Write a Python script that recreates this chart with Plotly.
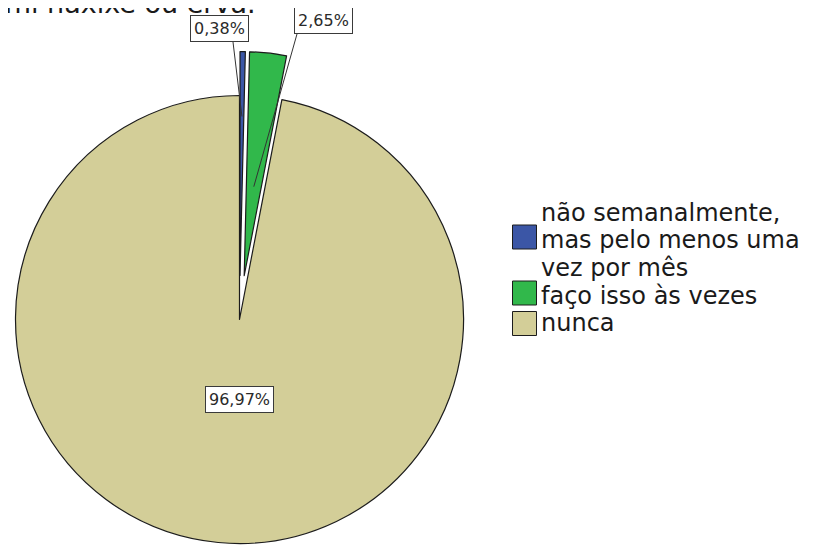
import math
import plotly.graph_objects as go

# ---------------- data ----------------
categories = ["não semanalmente, mas pelo menos uma vez por mês",
              "faço isso às vezes",
              "nunca"]
legend_lines = [["não semanalmente,", "mas pelo menos uma", "vez por mês"],
                ["faço isso às vezes"],
                ["nunca"]]
values = [0.38, 2.65, 96.97]
colors = ["#3B56A6", "#31B84B", "#D3CE98"]
exploded = [True, True, False]
title_text = "Consumi haxixe ou erva."

# ---------------- layout constants ----------------
W, H = 820, 545
OFF = 8  # page body margin of the browser
CX, CY, R = 239.5, 319.5, 224.0
PULL_PX = 44.0
EDGE = "#1c1c1c"
TXT = "#2a2a2a"
FONT = "DejaVu Sans"


def px_x(x):
    return (x - OFF) / W


def px_y(y):
    return 1 - (y - OFF) / H


def clamp(v):
    return max(0.0, min(1.0, v))


def domain_for(dx, dy):
    return dict(x=[clamp(px_x(CX + dx - R)), clamp(px_x(CX + dx + R))],
                y=[clamp(px_y(CY + dy + R)), clamp(px_y(CY + dy - R))])


total = sum(values)
mids = []
acc = 0.0
for v in values:
    mids.append((acc + v / 2) / total * 360)
    acc += v

TRANSP = "rgba(0,0,0,0)"


def pie_trace(visible_idx, dx, dy):
    vis = [i in visible_idx for i in range(len(values))]
    return go.Pie(
        values=values,
        labels=categories,
        sort=False,
        direction="clockwise",
        rotation=0,
        marker=dict(colors=[c if s else TRANSP for c, s in zip(colors, vis)],
                    line=dict(color=[EDGE if s else TRANSP for s in vis],
                              width=[1.2 if s else 0 for s in vis])),
        textinfo="none",
        hoverinfo="label+percent",
        showlegend=False,
        domain=domain_for(dx, dy),
    )


fig = go.Figure()
fig.add_trace(pie_trace([i for i, e in enumerate(exploded) if not e], 0, 0))

offsets = {}
for i, e in enumerate(exploded):
    if e:
        a = math.radians(mids[i])
        dx, dy = PULL_PX * math.sin(a), -PULL_PX * math.cos(a)
        offsets[i] = (dx, dy)
        fig.add_trace(pie_trace([i], dx, dy))
    else:
        offsets[i] = (0.0, 0.0)


def fmt(v):
    return f"{v:.2f}".replace(".", ",") + "%"


label_pos = [(219, 29), (323, 21), (239.5, 399)]
leader_start = [(233, 42), (297, 34), None]
leader_frac = [0.71, 0.40, None]

annotations = []
shapes = []
for i, v in enumerate(values):
    lx, ly = label_pos[i]
    annotations.append(dict(
        x=px_x(lx), y=px_y(ly), xref="paper", yref="paper",
        xanchor="center", yanchor="middle", showarrow=False,
        text=fmt(v), font=dict(family=FONT, size=16, color=TXT),
        bgcolor="white", bordercolor="#3a3a3a", borderwidth=1, borderpad=3))
    if leader_start[i] is not None:
        dx, dy = offsets[i]
        a = math.radians(mids[i])
        r = leader_frac[i] * R
        ex = CX + dx + r * math.sin(a)
        ey = CY + dy - r * math.cos(a)
        sx, sy = leader_start[i]
        shapes.append(dict(type="line", xref="paper", yref="paper",
                           x0=px_x(sx), y0=px_y(sy), x1=px_x(ex), y1=px_y(ey),
                           line=dict(color="#333333", width=1), layer="above"))

# legend (manual, to match the large swatches)
sw_centres = [237, 293, 323.5]
base0, line_h = 221, 27.7
line_idx = 0
LEG_FS = 24
for i, lines in enumerate(legend_lines):
    yc = sw_centres[i]
    shapes.append(dict(type="rect", xref="paper", yref="paper",
                       x0=px_x(512.5), x1=px_x(536.5),
                       y0=px_y(yc + 12), y1=px_y(yc - 12),
                       fillcolor=colors[i], line=dict(color=EDGE, width=1)))
    for ln in lines:
        baseline = base0 + line_h * line_idx
        annotations.append(dict(
            x=px_x(539), y=px_y(baseline - 0.346 * LEG_FS),
            xref="paper", yref="paper", xanchor="left", yanchor="middle",
            showarrow=False, text=ln,
            font=dict(family=FONT, size=LEG_FS, color="#1a1a1a")))
        line_idx += 1

# title (cut at the top of the picture)
TITLE_FS = 27
annotations.append(dict(
    x=px_x(258), y=px_y(13 - 0.346 * TITLE_FS), xref="paper", yref="paper",
    xanchor="right", yanchor="middle", showarrow=False, text=title_text,
    font=dict(family=FONT, size=TITLE_FS, color="#1a1a1a")))

fig.update_layout(
    width=W, height=H,
    margin=dict(l=0, r=0, t=0, b=0),
    paper_bgcolor="white", plot_bgcolor="white",
    showlegend=False,
    annotations=annotations,
    shapes=shapes,
    font=dict(family=FONT),
)

fig.write_html("out.html")
